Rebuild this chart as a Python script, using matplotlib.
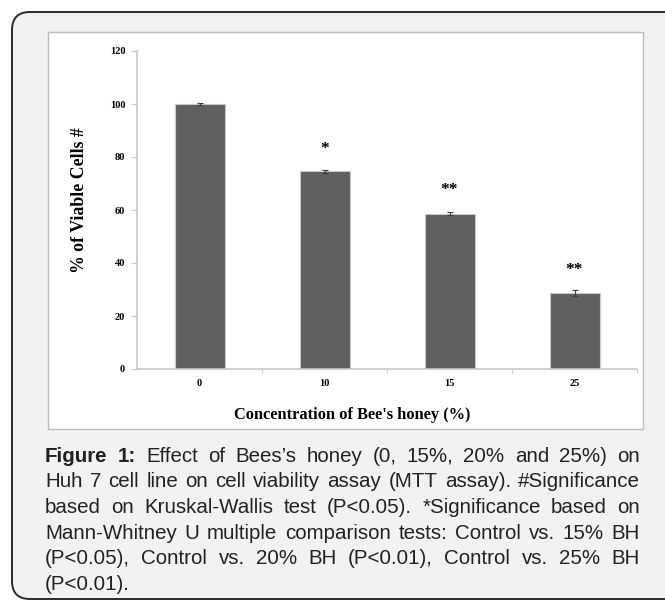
import matplotlib
matplotlib.use("Agg")
import matplotlib.pyplot as plt
from matplotlib.patches import FancyBboxPatch, Rectangle

# MTT viability data
concentrations = ["0", "10", "15", "25"]
viability = [100.0, 74.6, 58.6, 28.6]
viability_err = [0.2, 0.5, 0.5, 1.2]
significance = ["", "*", "**", "**"]
star_heights = [0, 83.0, 67.5, 37.5]

caption_lines = [
    [("Figure 1:", "bold"), ("Effect of Bees’s honey (0, 15%, 20% and 25%) on", "normal")],
    [("Huh 7 cell line on cell viability assay (MTT assay). #Significance", "normal")],
    [("based on Kruskal-Wallis test (P<0.05). *Significance based on", "normal")],
    [("Mann-Whitney U multiple comparison tests: Control vs. 15% BH", "normal")],
    [("(P<0.05), Control vs. 20% BH (P<0.01), Control vs. 25% BH", "normal")],
    [("(P<0.01).", "normal")],
]

W, H = 665, 601
fig = plt.figure(figsize=(W / 100, H / 100), dpi=100)
fig.patch.set_facecolor("white")

# pixel-space background layer
bg = fig.add_axes([0, 0, 1, 1], zorder=0)
bg.set_xlim(0, W)
bg.set_ylim(H, 0)
bg.axis("off")

bg.add_patch(FancyBboxPatch((12, 12), 700, 587,
                            boxstyle="round,pad=0,rounding_size=18",
                            facecolor="#f1f2f4", edgecolor="#2b2b2b", linewidth=1.4))
bg.add_patch(Rectangle((48, 32), 595, 397, facecolor="white",
                       edgecolor="#bdbdbd", linewidth=1.0))

# caption, justified between left and right margins
left, right = 45, 640
base0, step = 461.5, 25.7
fs = 14.8
fig.canvas.draw()
renderer = fig.canvas.get_renderer()
for i, line in enumerate(caption_lines):
    y = base0 + i * step
    words = []
    for txt, wt in line:
        for w in txt.split(" "):
            words.append((w, wt))
    objs = []
    for w, wt in words:
        t = bg.text(0, y, w, fontsize=fs, fontweight=wt, family="Liberation Sans",
                    color="#222222", va="baseline", ha="left")
        objs.append(t)
    widths = [t.get_window_extent(renderer).width for t in objs]
    if i < len(caption_lines) - 1:
        gap = (right - left - sum(widths)) / (len(objs) - 1)
    else:
        gap = fs * 0.28 * 100 / 72
    x = left
    for t, w in zip(objs, widths):
        t.set_x(x)
        x += w + gap

# bar chart
ax = fig.add_axes([137 / W, 1 - 369 / H, 500 / W, 318 / H], zorder=1)
ax.set_facecolor("none")
xpos = list(range(len(concentrations)))
ax.bar(xpos, viability, width=0.4, color="#606060", edgecolor="#c8c8c8",
       linewidth=0.8, zorder=2)
ax.errorbar(xpos, viability, yerr=viability_err, fmt="none", ecolor="#404040",
            elinewidth=0.8, capsize=2, capthick=0.8, zorder=3)
for x, s, h in zip(xpos, significance, star_heights):
    if s:
        ax.text(x, h, s, ha="center", va="center", fontsize=12.5,
                fontweight="bold", family="Liberation Serif", color="black")

ax.set_xlim(-0.5, 3.5)
ax.set_ylim(0, 120)
ax.set_yticks(range(0, 121, 20))
ax.set_xticks(xpos)
ax.set_xticklabels(concentrations)
ax.set_xticks([0.5, 1.5, 2.5, 3.5], minor=True)
ax.tick_params(axis="x", which="major", length=0, pad=7.5)
ax.tick_params(axis="x", which="minor", length=3, color="#c8c8c8", width=0.8)
ax.tick_params(axis="y", length=4, color="#c8c8c8", width=0.8, pad=4.5)
for lab in ax.get_xticklabels() + ax.get_yticklabels():
    lab.set_fontfamily("Liberation Serif")
    lab.set_fontweight("bold")
    lab.set_fontsize(7.5)
for side in ["top", "right"]:
    ax.spines[side].set_visible(False)
for side in ["left", "bottom"]:
    ax.spines[side].set_color("#c8c8c8")
    ax.spines[side].set_linewidth(1.2)

ax.set_ylabel("% of Viable Cells #", fontsize=12.8, fontweight="bold",
              family="Liberation Serif", va="center")
ax.yaxis.set_label_coords(-0.116, 0.53)
ax.set_xlabel("Concentration of Bee's honey (%)", fontsize=11.8, fontweight="bold",
              family="Liberation Serif", va="center")
ax.xaxis.set_label_coords(0.43, -0.145)

fig.savefig("out.png", dpi=100)
